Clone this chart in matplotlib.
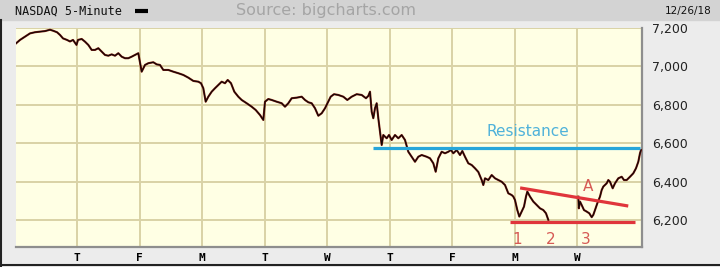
#! /usr/bin/python

# NASDAQ 5-minute chart, 12/12/18 - 12/26/18, with support / resistance marks

import matplotlib
matplotlib.use("Agg")
import matplotlib.pyplot as plt
from matplotlib.lines import Line2D
from matplotlib.patches import Rectangle

# trading time in days (0 = Wed 12/12 open) and index level
t_main = [0.024, 0.088, 0.168, 0.248, 0.328, 0.408, 0.488, 0.568, 0.616, 0.68, 0.728, 0.776, 0.84, 0.888, 0.936, 0.992,
          1.016, 1.075, 1.128, 1.181, 1.235, 1.288, 1.341, 1.395, 1.448, 1.501, 1.555, 1.608, 1.661, 1.715, 1.768, 1.821, 1.875, 1.928, 1.981,
          2.035, 2.088, 2.141, 2.221, 2.275, 2.328, 2.381, 2.461, 2.541, 2.621, 2.701, 2.781, 2.861, 2.941, 2.984,
          3.021, 3.059, 3.101, 3.155, 3.208, 3.261, 3.315, 3.368, 3.411, 3.464, 3.517, 3.581, 3.635, 3.715, 3.795, 3.859, 3.928, 3.981,
          4.008, 4.061, 4.115, 4.195, 4.275, 4.328, 4.381, 4.435, 4.515, 4.595, 4.648, 4.701, 4.755, 4.808, 4.861, 4.915, 4.968,
          5.059, 5.112, 5.181, 5.261, 5.325, 5.395, 5.475, 5.555, 5.624, 5.661, 5.688, 5.715, 5.741, 5.768, 5.795, 5.821, 5.848, 5.875, 5.901, 5.955, 5.992,
          6.035, 6.088, 6.141, 6.195, 6.248, 6.301, 6.355, 6.408, 6.461, 6.515, 6.595, 6.648, 6.701, 6.739, 6.781, 6.835, 6.888, 6.941, 6.984,
          7.021, 7.075, 7.128, 7.165, 7.208, 7.261, 7.315, 7.368, 7.421, 7.475, 7.501, 7.528, 7.581, 7.635, 7.688, 7.741, 7.795, 7.848, 7.901, 7.955, 7.981,
          8.008, 8.045, 8.077, 8.115, 8.152, 8.184, 8.205, 8.248, 8.301, 8.355, 8.408, 8.461, 8.504, 8.541]
px_main = [7120, 7138, 7155, 7172, 7178, 7181, 7184, 7191, 7186, 7178, 7164, 7146, 7138, 7130, 7138, 7112,
           7138, 7143, 7129, 7112, 7086, 7086, 7095, 7077, 7060, 7056, 7063, 7056, 7069, 7051, 7043, 7043, 7051, 7060, 7069,
           6973, 7008, 7017, 7022, 7011, 7008, 6982, 6982, 6973, 6965, 6956, 6942, 6925, 6921, 6913,
           6887, 6817, 6843, 6869, 6887, 6904, 6921, 6913, 6930, 6913, 6869, 6843, 6826, 6809, 6791, 6774, 6748, 6722,
           6817, 6831, 6826, 6817, 6809, 6791, 6809, 6835, 6838, 6843, 6826, 6814, 6809, 6783, 6744, 6757, 6783,
           6843, 6856, 6852, 6843, 6826, 6843, 6856, 6852, 6835, 6847, 6869, 6765, 6731, 6783, 6809, 6731, 6661, 6592, 6644, 6627, 6644,
           6618, 6644, 6627, 6644, 6618, 6557, 6531, 6505, 6531, 6540, 6531, 6523, 6497, 6453, 6523, 6557, 6549, 6557, 6566,
           6549, 6566, 6540, 6561, 6531, 6497, 6488, 6471, 6452, 6410, 6384, 6419, 6410, 6436, 6419, 6410, 6401, 6384, 6341, 6332, 6324,
           6306, 6254, 6220, 6246, 6272, 6324, 6350, 6324, 6298, 6280, 6263, 6254, 6237, 6203]

# Wed 12/26 (market closed on Tuesday)
t_wed = [9.021, 9.029, 9.048, 9.075, 9.112, 9.155, 9.197, 9.235, 9.261, 9.288, 9.325, 9.368, 9.395, 9.421, 9.475,
         9.501, 9.528, 9.571, 9.608, 9.661, 9.715, 9.752, 9.795, 9.848, 9.901, 9.944, 9.981, 10.008, 10.024]
px_wed = [6324, 6263, 6298, 6280, 6254, 6246, 6237, 6217, 6229, 6254, 6289, 6324, 6358, 6376, 6393,
          6410, 6401, 6367, 6393, 6419, 6427, 6410, 6410, 6427, 6445, 6471, 6505, 6549, 6566]

day_labels = ["T", "F", "M", "T", "W", "T", "F", "M", "W"]
price_ticks = [6200, 6400, 6600, 6800, 7000, 7200]

resistance_level = 6577
resistance_span = [5.74, 10.01]
support_level = 6192
support_span = [7.93, 9.93]
trend_t = [8.09, 9.82]
trend_px = [6369, 6275]

# annotation labels: text, time, level
marks = [("1", 8.04, 6099), ("2", 8.58, 6099), ("3", 9.14, 6099), ("A", 9.18, 6374)]
resistance_label = ("Resistance", 8.22, 6660)

BG = "#ececec"
PLOT_BG = "#ffffe4"
GRID = "#d9d2a6"
RED = "#e0353b"
BLUE = "#27a6da"


def header(fig):
    fig.patches.append(Rectangle((0, 1 - 20 / 267.), 1, 20 / 267., transform=fig.transFigure,
                                 color="#d3d3d3", zorder=0))
    fig.text(15 / 720., 1 - 11 / 267., "NASDAQ 5-Minute", family="DejaVu Sans Mono",
             fontsize=8.5, va="center", ha="left", color="#111111")
    fig.lines.append(Line2D([135 / 720., 148 / 720.], [1 - 11 / 267.] * 2, transform=fig.transFigure,
                            color="black", lw=3, solid_capstyle="butt"))
    fig.text(326 / 720., 1 - 11 / 267., "Source: bigcharts.com", fontsize=11.5,
             va="center", ha="center", color="#a5a5a5")
    fig.text(712 / 720., 1 - 11 / 267., "12/26/18", fontsize=7.5,
             va="center", ha="right", color="#111111")
    # dark frame on the left and bottom
    fig.lines.append(Line2D([1 / 720., 1 / 720.], [0, 1 - 20 / 267.], transform=fig.transFigure,
                            color="#222222", lw=1.5))
    fig.lines.append(Line2D([0, 1], [2 / 267., 2 / 267.], transform=fig.transFigure,
                            color="#222222", lw=1.5))


def main():
    fig = plt.figure(figsize=(7.2, 2.67), dpi=100, facecolor=BG)
    header(fig)

    ax = fig.add_axes([16 / 720., 20 / 267., 626 / 720., 219 / 267.])
    ax.set_facecolor(PLOT_BG)
    ax.set_xlim(0.024, 10.04)
    ax.set_ylim(6062, 7200)

    # price line: dark red halo under a black core
    for tt, pp in [(t_main, px_main), (t_wed, px_wed)]:
        ax.plot(tt, pp, color="#7d1b12", lw=1.5, zorder=3)
        ax.plot(tt, pp, color="#120605", lw=0.8, zorder=4)

    ax.hlines(resistance_level, resistance_span[0], resistance_span[1], color=BLUE, lw=2.3, zorder=5)
    txt, tx, ty = resistance_label
    ax.text(tx, ty, txt, color="#4fb2da", fontsize=11, ha="center", va="center", zorder=6)
    ax.hlines(support_level, support_span[0], support_span[1], color=RED, lw=2.3, zorder=5)
    ax.plot(trend_t, trend_px, color=RED, lw=2.3, zorder=5, solid_capstyle="butt")
    for txt, tx, ty in marks:
        ax.text(tx, ty, txt, color="#d65a55", fontsize=11, ha="center", va="center", zorder=6)

    ax.set_xticks(range(1, 10))
    ax.set_xticklabels(day_labels, family="DejaVu Sans Mono", fontweight="bold", fontsize=8)
    ax.set_yticks(price_ticks)
    ax.set_yticklabels(["{:,}".format(p) for p in price_ticks], fontsize=9, color="#222222")
    ax.yaxis.tick_right()
    ax.tick_params(axis="both", length=0)
    ax.tick_params(axis="x", pad=4)
    ax.tick_params(axis="y", pad=7)
    ax.grid(True, color=GRID, lw=1.4, zorder=1)
    ax.set_axisbelow(True)

    for s in ["left", "top"]:
        ax.spines[s].set_visible(False)
    for s in ["bottom", "right"]:
        ax.spines[s].set_color("#8e8e8e")
        ax.spines[s].set_linewidth(1.6)

    fig.savefig("out.png", dpi=100, facecolor=BG)


if __name__ == '__main__': main()
